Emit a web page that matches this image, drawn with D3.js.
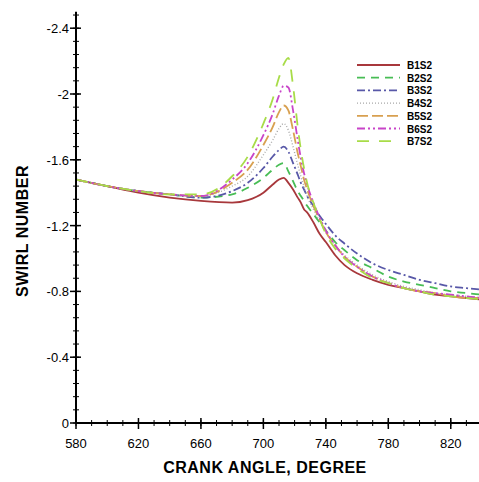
<!DOCTYPE html>
<html>
<head>
<meta charset="utf-8">
<script src="https://cdn.jsdelivr.net/npm/d3@7"></script>
<style>
body { margin: 0; background: #fff; }
text { font-family: "Liberation Sans", Arial, sans-serif; }
</style>
</head>
<body>
<div id="chart"></div>
<script>
var names = ['B1S2','B2S2','B3S2','B4S2','B5S2','B6S2','B7S2']
var colors = ['#a8383c','#48bd55','#5858a8','#a8a8a8','#d8a050','#c844c8','#a8dc48']
var dashes = ['none','8,6','8,3,2,3','1,2','11,4','8,3,2,3,2,3','12,10']

var angle = [580,600,620,640,660,680,690,700,706,710,713,716,719,722,724,726,728,732,736,740,746,752,760,770,780,790,800,810,820,830,840]
var b1 = [-1.48,-1.44,-1.40,-1.37,-1.35,-1.34,-1.355,-1.40,-1.45,-1.48,-1.49,-1.46,-1.42,-1.37,-1.34,-1.30,-1.28,-1.22,-1.15,-1.10,-1.02,-0.96,-0.91,-0.87,-0.84,-0.82,-0.80,-0.78,-0.77,-0.76,-0.75]
var b2 = [-1.48,-1.44,-1.41,-1.39,-1.37,-1.39,-1.43,-1.49,-1.54,-1.57,-1.58,-1.53,-1.47,-1.41,-1.38,-1.35,-1.32,-1.27,-1.22,-1.17,-1.10,-1.05,-0.99,-0.94,-0.89,-0.86,-0.84,-0.82,-0.80,-0.79,-0.78]
var b3 = [-1.48,-1.44,-1.41,-1.39,-1.37,-1.41,-1.46,-1.55,-1.62,-1.66,-1.68,-1.65,-1.58,-1.51,-1.46,-1.42,-1.38,-1.32,-1.26,-1.21,-1.14,-1.09,-1.03,-0.97,-0.93,-0.90,-0.87,-0.85,-0.83,-0.82,-0.81]
var b4 = [-1.48,-1.44,-1.41,-1.39,-1.38,-1.44,-1.50,-1.63,-1.72,-1.79,-1.82,-1.78,-1.68,-1.57,-1.50,-1.44,-1.38,-1.30,-1.23,-1.16,-1.08,-1.02,-0.96,-0.90,-0.86,-0.83,-0.81,-0.79,-0.78,-0.77,-0.76]
var b5 = [-1.48,-1.44,-1.41,-1.39,-1.38,-1.46,-1.54,-1.69,-1.80,-1.89,-1.93,-1.90,-1.78,-1.64,-1.56,-1.48,-1.42,-1.32,-1.24,-1.16,-1.08,-1.01,-0.95,-0.89,-0.85,-0.82,-0.80,-0.79,-0.77,-0.76,-0.76]
var b6 = [-1.48,-1.44,-1.41,-1.39,-1.38,-1.48,-1.58,-1.75,-1.88,-1.99,-2.05,-2.04,-1.90,-1.72,-1.61,-1.52,-1.45,-1.34,-1.25,-1.17,-1.08,-1.01,-0.95,-0.89,-0.85,-0.82,-0.80,-0.79,-0.78,-0.77,-0.76]
var b7 = [-1.48,-1.44,-1.41,-1.39,-1.39,-1.50,-1.62,-1.82,-1.97,-2.10,-2.18,-2.22,-2.05,-1.80,-1.66,-1.55,-1.46,-1.34,-1.24,-1.15,-1.06,-1.00,-0.94,-0.88,-0.85,-0.82,-0.80,-0.78,-0.77,-0.76,-0.75]
var series = [b1,b2,b3,b4,b5,b6,b7]

var xTicks = [580,620,660,700,740,780,820]
var yTicks = [0,-0.4,-0.8,-1.2,-1.6,-2,-2.4]

var width = 479, height = 482
var svg = d3.select('#chart').append('svg')
	.attr('width', width)
	.attr('height', height)

var x = d3.scaleLinear().domain([580,840]).range([76,482])
var y = d3.scaleLinear().domain([0,-2.5]).range([423,11.75])

var line = d3.line()
	.x((d,i)=>x(angle[i]))
	.y(d=>y(d))
	.curve(d3.curveMonotoneX)

var curves = svg.append('g')
series.forEach((s,i)=>{
	curves.append('path').datum(s)
		.attr('d', line)
		.attr('fill','none')
		.attr('stroke', colors[i])
		.attr('stroke-width', i===3 ? 1.4 : 1.8)
		.attr('stroke-dasharray', dashes[i])
})

// axes: ticks cross the axis line
var ax = svg.append('g')
var xMinor = d3.range(580,841,10)
var yMinor = d3.range(0,63).map(k=>-Math.round(k*8)/100).filter(v=>v>=-2.5)

ax.selectAll('.xminor').data(xMinor).enter().append('line')
	.attr('x1',d=>x(d)).attr('x2',d=>x(d))
	.attr('y1',y(0)-3).attr('y2',y(0)+3)
	.attr('stroke','#000').attr('stroke-width',1)
ax.selectAll('.xmajor').data(xTicks).enter().append('line')
	.attr('x1',d=>x(d)).attr('x2',d=>x(d))
	.attr('y1',y(0)-5).attr('y2',y(0)+6)
	.attr('stroke','#000').attr('stroke-width',1.5)
ax.selectAll('.yminor').data(yMinor).enter().append('line')
	.attr('y1',d=>y(d)).attr('y2',d=>y(d))
	.attr('x1',x(580)-3).attr('x2',x(580)+3)
	.attr('stroke','#000').attr('stroke-width',1)
ax.selectAll('.ymajor').data(yTicks).enter().append('line')
	.attr('y1',d=>y(d)).attr('y2',d=>y(d))
	.attr('x1',x(580)-6).attr('x2',x(580)+5)
	.attr('stroke','#000').attr('stroke-width',1.5)

ax.append('line')
	.attr('x1',x(580)).attr('x2',x(840))
	.attr('y1',y(0)).attr('y2',y(0))
	.attr('stroke','#000').attr('stroke-width',2)
ax.append('line')
	.attr('x1',x(580)).attr('x2',x(580))
	.attr('y1',y(0)).attr('y2',y(-2.5))
	.attr('stroke','#000').attr('stroke-width',2)

ax.selectAll('.xlab').data(xTicks).enter().append('text')
	.attr('x',d=>x(d)).attr('y',448)
	.attr('text-anchor','middle')
	.style('font-size','13px')
	.text(d=>d)
ax.selectAll('.ylab').data(yTicks).enter().append('text')
	.attr('x',x(580)-7).attr('y',d=>y(d)+5)
	.attr('text-anchor','end')
	.style('font-size','13px')
	.text(d=>d===0?'0':String(d))

svg.append('text')
	.attr('x',265).attr('y',473)
	.attr('text-anchor','middle')
	.style('font-size','16px').style('font-weight','bold')
	.style('letter-spacing','0.5px')
	.text('CRANK ANGLE, DEGREE')
svg.append('text')
	.attr('transform','translate(28,231) rotate(-90)')
	.attr('text-anchor','middle')
	.style('font-size','16px').style('font-weight','bold')
	.style('letter-spacing','0.5px')
	.text('SWIRL NUMBER')

// legend
var leg = svg.append('g')
names.forEach((n,i)=>{
	var ly = 65 + i*12.7
	leg.append('line')
		.attr('x1',357).attr('x2',400)
		.attr('y1',ly).attr('y2',ly)
		.attr('stroke',colors[i])
		.attr('stroke-width', i===3 ? 1.4 : 1.8)
		.attr('stroke-dasharray',dashes[i])
	leg.append('text')
		.attr('x',407).attr('y',ly+4)
		.style('font-family','"Liberation Sans Narrow", "Liberation Sans", Arial, sans-serif')
		.style('font-size','10px').style('font-weight','bold')
		.text(n)
})
</script>
</body>
</html>
